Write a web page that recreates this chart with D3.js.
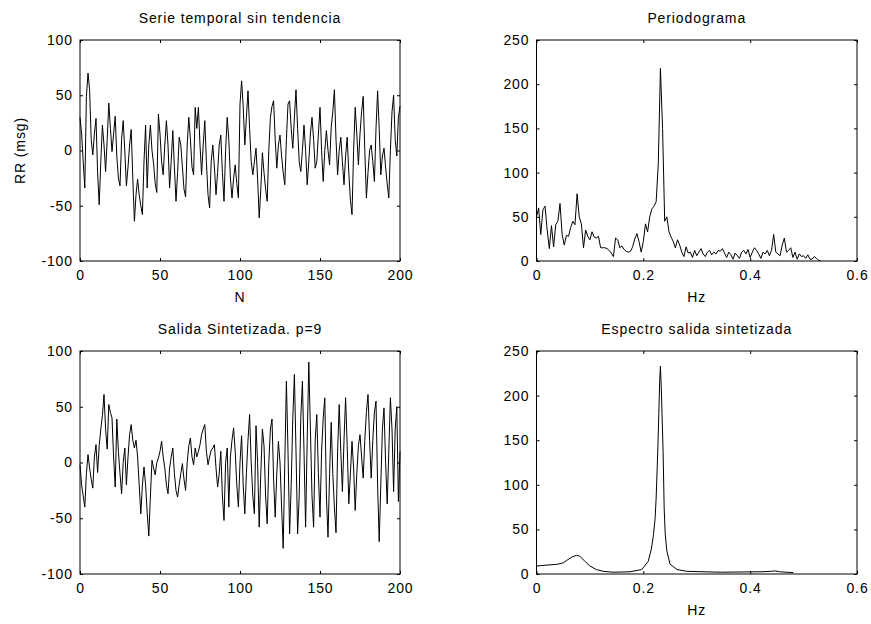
<!DOCTYPE html>
<html><head><meta charset="utf-8">
<script src="https://cdn.jsdelivr.net/npm/d3@7"></script>
<style>
body{margin:0;background:#fff;}
svg text{font-family:Arial,"Liberation Sans",sans-serif;font-size:14px;fill:#000;letter-spacing:0.9px;}
</style></head><body>
<svg id="c" width="871" height="624"></svg>
<script>
// ---------- DATA ----------
const titles = ["Serie temporal sin tendencia","Periodograma","Salida Sintetizada. p=9","Espectro salida sintetizada"];
const ticksN = [0,50,100,150,200];
const ticksRR = [-100,-50,0,50,100];
const ticksHz = [0,0.2,0.4,0.6];
const ticksPow = [0,50,100,150,200,250];

// detrended RR series (msg), N = 0..200
const serieSinTendencia = [30,15,-10,-34,49,70,55,10,-4,15,29,-20,-49,-10,23,5,-19,10,43,20,
-1,15,31,-5,-25,-32,10,27,0,-32,-15,5,19,-25,-64,-40,-26,-40,-50,-58,
-10,23,-34,5,23,0,-12,-30,-38,33,15,-10,-22,5,27,5,-34,-10,18,-15,
-46,-20,12,5,-15,-35,-42,5,30,10,-15,-22,39,20,39,5,-22,5,27,-10,
-40,-52,-10,5,-15,-40,-20,5,14,-20,-46,0,30,10,-25,-43,-25,-13,-30,-43,
42,63,40,5,30,54,20,-10,-22,-10,2,-25,-61,-35,-2,-20,-35,-46,0,30,
40,45,10,-16,5,14,-5,-20,-31,10,42,45,20,2,30,55,20,-10,-19,0,
23,0,-31,-10,15,30,10,-16,-10,15,39,0,-28,0,18,0,-13,21,35,55,
10,-22,0,12,-10,-31,-5,12,-20,-45,-58,0,39,15,-13,15,35,49,0,-43,
-20,0,5,-10,-28,20,54,20,-22,-5,2,-15,-30,-43,0,35,50,10,-5,30,40];

// synthesized output, N = 0..200
const salidaSintetizada = [-2,-20,-30,-40,-10,7,-5,-15,-23,5,16,-9,15,30,42,61,30,12,52,45,
40,5,-22,39,10,-10,-28,0,13,-20,5,25,34,20,13,20,5,-20,-46,-20,
-4,-20,-45,-66,-30,2,-5,-11,0,4,10,19,5,-5,-20,-28,-5,5,13,-10,
-25,-31,-20,-10,-1,-15,-25,0,15,22,5,-2,13,5,10,16,25,30,34,10,
-2,5,11,13,16,-5,-22,-10,10,-30,-52,0,13,-40,5,20,31,10,-20,-40,
0,24,-20,-46,-10,20,43,0,-30,-46,33,0,-58,-10,30,15,-30,-55,0,30,
39,-15,-49,-10,19,0,-40,-77,0,73,10,-64,-20,40,79,10,-64,-30,40,73,
10,-58,20,90,30,-30,-58,20,43,-10,-49,10,40,58,-30,-67,-10,36,-10,-40,
-63,10,52,10,-26,20,58,15,-37,-10,19,-5,-43,-10,15,25,5,-14,20,45,
61,20,-14,20,45,55,-20,-71,-20,30,49,0,-37,10,58,30,-26,30,50,-35,10];

// periodogram, frequency step (Hz)
const periodogramaStep = 0.004;
const periodograma = [50,60,30,58,62,35,14,40,16,41,45,65,30,18,29,28,38,45,41,76,
50,42,15,35,28,24,33,27,26,28,15,15,15,14,12,9,5,26,24,15,
17,13,11,10,11,16,25,31,22,10,22,42,33,50,59,62,67,110,218,150,
45,50,33,27,22,15,24,18,10,5,16,9,10,4,12,6,10,14,8,5,
10,12,7,10,8,12,11,14,9,4,10,7,2,9,6,3,10,12,8,13,
4,10,15,12,8,3,10,8,12,6,12,30,10,8,6,18,26,10,12,15,
4,10,2,8,5,6,3,7,2,2,5,3,1,0];

// AR spectrum of synthesized output
const espectroHz = [0,0.02,0.04,0.05,0.056,0.066,0.075,0.081,0.091,0.1,0.112,0.125,0.144,0.175,0.197,0.209,0.215,0.219,0.222,0.224,
0.227,0.229,0.2305,0.232,0.2335,0.235,0.237,0.239,0.241,0.244,0.25,0.263,0.281,0.344,0.42,0.44,0.447,0.455,0.481];
const espectroVal = [9,10,11,12.5,15,19,21,20,14,9,5,3,2,2.5,5,14,28,44,62,85,
137,180,215,233,210,180,137,74,45,26,11,5,3,2,2.5,3,3.5,2.5,1.5];

// ---------- DRAW ----------
const svg = d3.select("#c");
const L = {x0:80, x1:400}, R = {x0:536.5, x1:857};
const T = {y0:40, y1:261}, B = {y0:351, y1:574};
const fmtInt = d => String(d);
const fmtHz = d => d===0 ? "0" : d.toFixed(1);

function panel(px, py, xDom, yDom, xTicks, yTicks, xFmt, title, xlabel, ylabel){
  const x = d3.scaleLinear().domain(xDom).range([px.x0, px.x1]);
  const y = d3.scaleLinear().domain(yDom).range([py.y1, py.y0]);
  const g = svg.append("g");
  const tl = 3;
  g.append("g").attr("transform",`translate(0,${py.y1})`)
    .call(d3.axisBottom(x).tickValues(xTicks).tickFormat(xFmt).tickSizeInner(-tl).tickSizeOuter(0).tickPadding(9));
  g.append("g").attr("transform",`translate(0,${py.y0})`)
    .call(d3.axisTop(x).tickValues(xTicks).tickFormat("").tickSizeInner(-tl).tickSizeOuter(0));
  g.append("g").attr("transform",`translate(${px.x0},0)`)
    .call(d3.axisLeft(y).tickValues(yTicks).tickFormat(fmtInt).tickSizeInner(-tl).tickSizeOuter(0).tickPadding(7));
  g.append("g").attr("transform",`translate(${px.x1},0)`)
    .call(d3.axisRight(y).tickValues(yTicks).tickFormat("").tickSizeInner(-tl).tickSizeOuter(0));
  g.selectAll(".domain").remove();
  g.selectAll(".tick line").attr("stroke","#000");
  g.selectAll(".tick text").style("font-size","14px").attr("font-family",null);
  g.append("rect").attr("x",px.x0).attr("y",py.y0).attr("width",px.x1-px.x0).attr("height",py.y1-py.y0)
    .attr("fill","none").attr("stroke","#000").attr("stroke-width",1);
  g.append("text").attr("x",(px.x0+px.x1)/2).attr("y",py.y0-17).attr("text-anchor","middle").text(title);
  if(xlabel) g.append("text").attr("x",(px.x0+px.x1)/2).attr("y",py.y1+41).attr("text-anchor","middle").text(xlabel);
  if(ylabel) g.append("text").attr("transform",`translate(${px.x0-55},${(py.y0+py.y1)/2}) rotate(-90)`).attr("text-anchor","middle").text(ylabel);
  return {x,y,g};
}

function drawLine(p, xs, ys){
  p.g.append("path").datum(ys.map((v,i)=>[xs[i],v]))
    .attr("fill","none").attr("stroke","#000").attr("stroke-width",1)
    .attr("d", d3.line().x(d=>p.x(d[0])).y(d=>p.y(d[1])));
}

const p1 = panel(L,T,[0,200],[-100,100],ticksN,ticksRR,fmtInt,titles[0],"N","RR (msg)");
drawLine(p1, serieSinTendencia.map((v,i)=>i), serieSinTendencia);

const p2 = panel(R,T,[0,0.6],[0,250],ticksHz,ticksPow,fmtHz,titles[1],"Hz",null);
drawLine(p2, periodograma.map((v,i)=>i*periodogramaStep), periodograma);

const p3 = panel(L,B,[0,200],[-100,100],ticksN,ticksRR,fmtInt,titles[2],null,null);
drawLine(p3, salidaSintetizada.map((v,i)=>i), salidaSintetizada);

const p4 = panel(R,B,[0,0.6],[0,250],ticksHz,ticksPow,fmtHz,titles[3],"Hz",null);
drawLine(p4, espectroHz, espectroVal);
</script>
</body></html>
